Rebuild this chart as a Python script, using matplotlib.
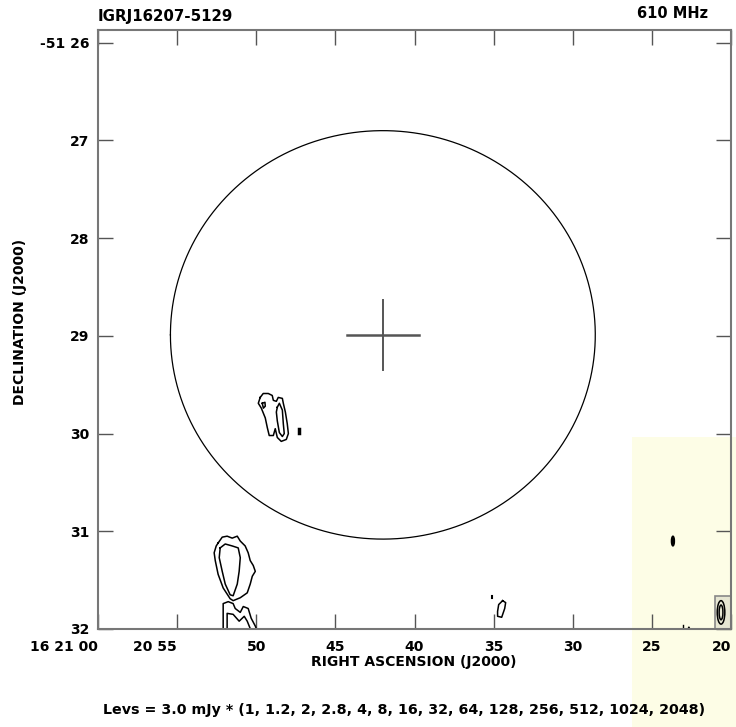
import numpy as np
import matplotlib
matplotlib.use('Agg')
import matplotlib.pyplot as plt
from matplotlib.patches import Rectangle, Ellipse

plt.rcParams['font.family'] = ['DejaVu Sans']
plt.rcParams['font.weight'] = 'bold'

# RA in seconds past 16h20m, Dec in arcmin past -51 deg
ra_ticks = [60, 55, 50, 45, 40, 35, 30, 25, 20]
ra_labels = ['16 21 00', '20 55', '50', '45', '40', '35', '30', '25', '20']
dec_ticks = [26, 27, 28, 29, 30, 31, 32]
dec_labels = ['-51 26', '27', '28', '29', '30', '31', '32']

# error circle (arcmin) and source position
circ_ra, circ_dec = 42.0, 28.99
circ_r = 2.09
cross_r = 0.355
dec0 = 51.48

# contours: (ra sec, dec arcmin)
src_a_outer = [(49.75, 29.63), (49.56, 29.59), (49.24, 29.59), (48.99, 29.61), (48.92, 29.66),
               (48.73, 29.67), (48.61, 29.63), (48.35, 29.64), (48.29, 29.69), (48.16, 29.78),
               (48.04, 29.90), (47.97, 30.00), (48.10, 30.06), (48.42, 30.08), (48.67, 30.04),
               (48.80, 29.95), (48.92, 30.02), (49.18, 30.02), (49.30, 29.94), (49.43, 29.84),
               (49.68, 29.74), (49.87, 29.69), (49.75, 29.63)]
src_a_inner = [(48.67, 29.73), (48.54, 29.69), (48.35, 29.76), (48.29, 29.90), (48.23, 30.00),
               (48.35, 30.03), (48.54, 29.99), (48.67, 29.87), (48.73, 29.78), (48.67, 29.73)]
src_a_knot = [(49.62, 29.69), (49.45, 29.68), (49.43, 29.72), (49.55, 29.74), (49.62, 29.69)]
src_a_dot = [(47.28, 29.95), (47.28, 29.99)]

src_b_outer = [(52.41, 31.12), (52.15, 31.06), (51.84, 31.05), (51.52, 31.07), (51.20, 31.05),
               (51.01, 31.10), (50.70, 31.15), (50.51, 31.22), (50.38, 31.30), (50.19, 31.35),
               (50.06, 31.41), (50.25, 31.46), (50.38, 31.54), (50.57, 31.63), (51.01, 31.68),
               (51.46, 31.71), (51.65, 31.69), (52.09, 31.58), (52.41, 31.44), (52.59, 31.30),
               (52.66, 31.22), (52.53, 31.15), (52.41, 31.12)]
src_b_inner = [(52.28, 31.17), (51.96, 31.13), (51.52, 31.15), (51.14, 31.17), (51.01, 31.27),
               (51.08, 31.41), (51.20, 31.54), (51.46, 31.66), (51.65, 31.65), (51.96, 31.54),
               (52.15, 31.41), (52.34, 31.27), (52.28, 31.17)]
src_b_low1 = [(52.09, 32.02), (52.09, 31.74), (51.77, 31.72), (51.46, 31.74), (51.33, 31.79),
              (51.01, 31.83), (50.82, 31.77), (50.51, 31.79), (50.32, 31.89), (50.06, 31.97),
              (49.94, 32.02)]
src_b_low2 = [(51.84, 32.02), (51.84, 31.84), (51.46, 31.85), (51.08, 31.92), (50.76, 31.87),
              (50.57, 31.92), (50.32, 32.02)]

src_c = [(34.43, 31.71), (34.24, 31.73), (34.30, 31.79), (34.49, 31.88), (34.75, 31.87),
         (34.75, 31.82), (34.68, 31.75), (34.43, 31.71)]
src_c_dot = [(35.13, 31.66), (35.13, 31.68)]

src_d_dot = (23.67, 31.10)
src_e = (20.63, 31.83)
src_e_box = (21.01, 20.0, 31.66, 32.0)
src_f = [[(23.04, 31.96), (23.04, 32.0)], [(22.72, 32.0), (22.66, 31.98), (22.60, 32.0)]]

levs = [1, 1.2, 2, 2.8, 4, 8, 16, 32, 64, 128, 256, 512, 1024, 2048]

fig = plt.figure(figsize=(7.36, 7.27), dpi=100)
fig.patches.append(Rectangle((632/736, 0), 1 - 632/736, (727-437)/727, transform=fig.transFigure,
                             facecolor='#fdfde6', edgecolor='none', zorder=-1))
ax = fig.add_axes([98/736, 1-629/727, 633/736, 599/727])
ax.patch.set_visible(False)

def draw(pts, **kw):
    p = np.array(pts)
    ax.plot(p[:, 0], p[:, 1], color='black', **kw)

# error circle
t = np.linspace(0, 2*np.pi, 400)
r_sec = circ_r*60/(15*np.cos(np.radians(dec0)))
ax.plot(circ_ra + r_sec*np.cos(t), circ_dec + circ_r*np.sin(t), color='black', lw=0.9)
c_sec = cross_r*60/(15*np.cos(np.radians(dec0)))
ax.plot([circ_ra - c_sec, circ_ra + c_sec], [circ_dec, circ_dec], color='#555555', lw=1.8)
ax.plot([circ_ra, circ_ra], [circ_dec - cross_r, circ_dec + cross_r], color='#555555', lw=1.4)

for c in [src_a_outer, src_a_inner, src_a_knot, src_b_outer, src_b_inner, src_b_low1, src_b_low2, src_c]:
    draw(c, lw=1.1, clip_on=True)
draw(src_a_dot, lw=2.5)
draw(src_c_dot, lw=1.5)
for c in src_f:
    draw(c, lw=1.0)
ax.add_patch(Ellipse(src_d_dot, 0.19, 0.1, color='black'))
x0, x1, y0, y1 = src_e_box
ax.add_patch(Rectangle((x1, y0), x0 - x1, y1 - y0, facecolor='#e6e6d2', edgecolor='#888888', lw=1.2))
ax.add_patch(Ellipse(src_e, 0.48, 0.24, facecolor='none', edgecolor='black', lw=1.1))
ax.add_patch(Ellipse(src_e, 0.24, 0.15, facecolor='none', edgecolor='black', lw=1.1))

ax.set_xlim(60, 20)
ax.set_ylim(32.0, 25.87)
ax.set_xticks(ra_ticks)
ax.set_xticklabels(ra_labels)
ax.set_yticks(dec_ticks)
ax.set_yticklabels(dec_labels)
ax.tick_params(direction='in', length=11, width=1, color='#555555', top=True, right=True,
               labelsize=10)
ax.tick_params(axis='x', pad=8)
ax.tick_params(axis='y', pad=6)
xl = ax.get_xticklabels()
xl[0].set_ha('right')
xl[1].set_ha('right')
xl[-1].set_ha('right')
for s in ax.spines.values():
    s.set_color('#777777')
    s.set_linewidth(1.5)

ax.set_xlabel('RIGHT ASCENSION (J2000)', fontsize=10, fontweight='bold')
ax.xaxis.set_label_coords(0.499, -(655-629)/599)
ax.set_ylabel('DECLINATION (J2000)', fontsize=10, fontweight='bold', va='center')
ax.yaxis.set_label_coords((20-98)/633, (629-322)/599)

fig.text(98/736, 1-17/727, 'IGRJ16207-5129', fontsize=10.8, fontweight='bold', ha='left', va='center')
fig.text(708/736, 1-13/727, '610 MHz', fontsize=10.5, fontweight='bold', ha='right', va='center')
fig.text(404/736, 1-710/727, 'Levs = 3.0 mJy * (' + ', '.join('%g' % v for v in levs) + ')',
         fontsize=10.3, fontweight='bold', ha='center', va='center')

fig.savefig('out.png', dpi=100)
